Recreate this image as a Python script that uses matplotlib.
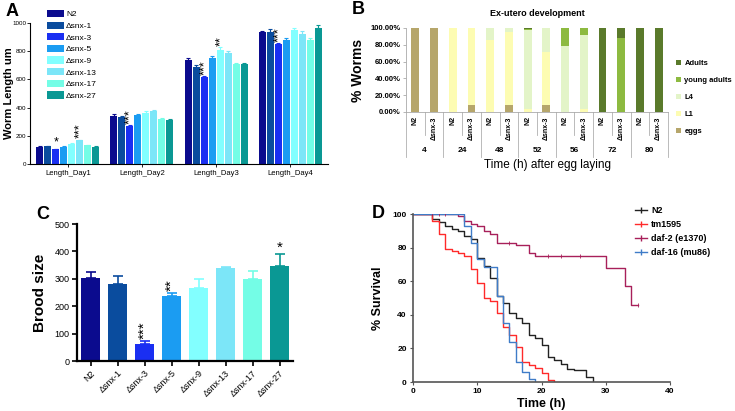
import numpy as np
import matplotlib
matplotlib.use("Agg")
import matplotlib.pyplot as plt
from matplotlib.lines import Line2D
import matplotlib.transforms as mtransforms

plt.rcParams['font.family'] = ['Liberation Sans', 'DejaVu Sans']

W, H = 735, 411

# ---- data ----
strains = ["N2", "Δsnx-1", "Δsnx-3", "Δsnx-5", "Δsnx-9", "Δsnx-13", "Δsnx-17", "Δsnx-27"]
strainColors = ["#0b0b8e", "#0a4c9e", "#1a2ff2", "#1b9cf2", "#82ffff", "#7ce6f8", "#74fde6", "#0a9894"]

days = ["Length_Day1", "Length_Day2", "Length_Day3", "Length_Day4"]
lengthDay1 = [122, 125, 104, 122, 143, 167, 134, 122]
lengthDay2 = [343, 332, 268, 348, 365, 379, 320, 313]
lengthDay3 = [741, 689, 619, 753, 812, 784, 708, 706]
lengthDay4 = [934, 934, 849, 878, 948, 920, 882, 967]
errDay1 = [4, 4, 5, 4, 5, 6, 4, 3]
errDay2 = [10, 6, 6, 8, 8, 6, 5, 4]
errDay3 = [10, 12, 6, 10, 20, 14, 10, 8]
errDay4 = [8, 20, 8, 15, 15, 20, 15, 20]
# (day index, strain index, stars)
lengthStars = [(0, 2, "*"), (0, 5, "***"), (1, 2, "***"), (2, 2, "***"), (2, 4, "**"), (3, 2, "***")]

timePoints = ["4", "24", "48", "52", "56", "72", "80"]
devStrains = ["N2", "Δsnx-3"]
eggs   = [100, 100, 0,   8,  0,  8,  0,  8,  0,  0,   0,  0,   0,   0]
L1     = [0,   0,   100, 92, 86, 87, 3,  63, 0,  3,   0,  0,   0,   0]
L4     = [0,   0,   0,   0,  14, 5,  95, 29, 78, 89,  0,  0,   0,   0]
youngA = [0,   0,   0,   0,  0,  0,  1,  0,  22, 8,   0,  88,  0,   0]
adults = [0,   0,   0,   0,  0,  0,  1,  0,  0,  0,   100, 12, 100, 100]
stageNames = ["eggs", "L1", "L4", "young adults", "Adults"]
stageColors = ["#b6a66b", "#fdfcb2", "#e3f4c8", "#8dba40", "#5a7a2b"]

brood = [302, 282, 61, 238, 268, 338, 301, 346]
broodErr = [21, 29, 13, 10, 31, 6, 27, 45]
broodStars = [(2, "***"), (3, "**"), (7, "*")]

n2T = [0, 3, 4, 5, 6, 7, 8, 9, 10, 11, 12, 13, 14, 15, 16, 17, 18, 19, 20, 21, 22, 23, 24, 25, 27, 28]
n2S = [100, 97, 95, 93, 91, 90, 87, 85, 74, 69, 62, 51, 47, 41, 38, 35, 28, 26, 22, 15, 13, 11, 8, 7, 3, 0]
tmT = [0, 3, 4, 5, 6, 7, 8, 9, 10, 11, 12, 13, 14, 15, 16, 17, 18, 19, 20, 21, 22]
tmS = [100, 96, 88, 79, 78, 77, 75, 67, 59, 50, 48, 41, 33, 28, 21, 12, 10, 8.5, 5.5, 1, 0]
daf2T = [0, 7, 8, 9, 10, 11, 12, 13, 16, 18, 19, 30, 33, 34, 35]
daf2S = [100, 99, 96, 94, 93, 90, 88, 83, 81.5, 77, 75, 68, 57, 46, 46]
daf16T = [0, 8, 9, 10, 11, 13, 14, 15, 16, 17, 18, 19]
daf16S = [100, 93, 83, 73.5, 68.6, 51, 35, 24, 12, 6, 2, 0]
daf2Censor = [3, 4, 5, 15, 21, 23, 26, 35]


def px_axes(left, top, right, bottom):
    return fig.add_axes([left / W, 1 - bottom / H, (right - left) / W, (bottom - top) / H])


fig = plt.figure(figsize=(W / 100, H / 100), dpi=100)

# ================= A =================
axA = px_axes(30, 23, 328, 164)
lengths = [lengthDay1, lengthDay2, lengthDay3, lengthDay4]
errs = [errDay1, errDay2, errDay3, errDay4]
pitch = 0.108
barW = 0.094
for j in range(len(strains)):
    xs = np.arange(len(days)) + (j - 3.5) * pitch
    vals = [lengths[d][j] for d in range(len(days))]
    ee = [errs[d][j] for d in range(len(days))]
    axA.bar(xs, vals, barW, color=strainColors[j], label=strains[j])
    axA.errorbar(xs, vals, yerr=[np.zeros(len(ee)), ee], fmt='none',
                 ecolor=strainColors[j], elinewidth=0.8, capsize=1.5, capthick=0.8)
for d, j, s in lengthStars:
    x = d + (j - 3.5) * pitch
    y = lengths[d][j] + errs[d][j] + 8
    if len(s) == 1:
        axA.text(x, y - 10, s, ha='center', va='bottom', fontsize=9)
    else:
        axA.text(x + 0.01, y, s, ha='center', va='bottom', fontsize=9, rotation=90)
axA.set_xlim(-0.51, 3.51)
axA.set_ylim(0, 1000)
axA.set_xticks(range(len(days)))
axA.set_xticklabels(days, fontsize=5.5)
axA.set_yticks(range(0, 1001, 200))
axA.tick_params(axis='y', labelsize=4.5, length=2, width=0.6, pad=0.8)
axA.tick_params(axis='x', length=2, width=0.6, pad=2)
for sp in ['top', 'right']:
    axA.spines[sp].set_visible(False)
for sp in ['left', 'bottom']:
    axA.spines[sp].set_linewidth(0.8)
axA.set_ylabel("Worm Length um", fontsize=8, fontweight='bold')
axA.yaxis.set_label_coords(-0.053, 0.5)
fig.legend(*axA.get_legend_handles_labels(), loc='upper left', bbox_to_anchor=(47 / W, 1 - 10 / H),
           frameon=False, fontsize=6, handlelength=2.0, handleheight=0.95, labelspacing=0.38,
           handletextpad=0.3, borderaxespad=0, borderpad=0)
fig.text(6 / W, 1 - 12 / H, "A", fontsize=13, fontweight='bold', va='center', ha='left')

# ================= B =================
axB = px_axes(406, 28, 668, 112)
nb = len(eggs)
xb = np.arange(nb)
stages = [eggs, L1, L4, youngA, adults]
bottom = np.zeros(nb)
for st, nm, c in zip(stages, stageNames, stageColors):
    axB.bar(xb, st, 0.42, bottom=bottom, color=c, label=nm)
    bottom = bottom + np.array(st)
axB.set_xlim(-0.5, nb - 0.5)
axB.set_ylim(0, 100)
axB.set_yticks(range(0, 101, 20))
axB.set_yticklabels(["%.2f%%" % v for v in range(0, 101, 20)], fontsize=5.5, fontweight='bold')
axB.tick_params(axis='y', length=2, width=0.5, color='#999999', pad=2)
axB.set_xticks([])
for sp in ['top', 'right']:
    axB.spines[sp].set_visible(False)
for sp in ['left', 'bottom']:
    axB.spines[sp].set_color('#aaaaaa')
    axB.spines[sp].set_linewidth(0.6)
trB = mtransforms.blended_transform_factory(axB.transData, axB.transAxes)
for i in range(nb):
    axB.text(i, -0.05, devStrains[i % 2], transform=trB, rotation=90, ha='center', va='top',
             fontsize=5, fontweight='bold')
for k in range(nb + 1):
    x = k - 0.5
    yb = -0.54 if k % 2 == 0 else -0.27
    axB.add_line(Line2D([x, x], [0, yb], transform=trB, color='#b0b0b0', lw=0.6, clip_on=False))
for g, tp in enumerate(timePoints):
    axB.text(2 * g + 0.5, -0.46, tp, transform=trB, ha='center', va='center', fontsize=6,
             fontweight='bold')
axB.set_title("Ex-utero development", fontsize=6.5, fontweight='bold', pad=9)
axB.set_ylabel("% Worms", fontsize=10, fontweight='bold', labelpad=4)
fig.text(547 / W, 1 - 165 / H, "Time (h) after egg laying", fontsize=8.5, ha='center', va='center')
hB, lB = axB.get_legend_handles_labels()
fig.legend(hB[::-1], lB[::-1], loc='upper left', bbox_to_anchor=(676 / W, 1 - 60 / H), frameon=False,
           prop={'size': 5.5, 'weight': 'bold'}, handlelength=0.7, handleheight=0.7, labelspacing=1.25,
           handletextpad=0.4, borderaxespad=0, borderpad=0)
fig.text(352 / W, 1 - 9 / H, "B", fontsize=13, fontweight='bold', va='center', ha='left')

# ================= C =================
axC = px_axes(77, 224, 293, 361)
xc = np.arange(len(strains))
axC.bar(xc, brood, 0.74, color=strainColors)
for i in range(len(strains)):
    axC.errorbar(xc[i], brood[i], yerr=[[0], [broodErr[i]]], fmt='none', ecolor=strainColors[i],
                 elinewidth=1.2, capsize=3.5, capthick=1.2)
for i, s in broodStars:
    y = brood[i] + broodErr[i] + 6
    if len(s) == 1:
        axC.text(xc[i], y - 10, s, ha='center', va='bottom', fontsize=11)
    else:
        axC.text(xc[i] + 0.02, y, s, ha='center', va='bottom', fontsize=11, rotation=90)
axC.set_xlim(-0.5, len(strains) - 0.5)
axC.set_ylim(0, 500)
axC.set_yticks(range(0, 501, 100))
axC.set_xticks(xc)
axC.set_xticklabels(strains, rotation=45, ha='right', rotation_mode='anchor', fontsize=6.5)
axC.tick_params(axis='both', length=3.5, width=1.2, labelsize=6.5, pad=2)
for sp in ['top', 'right']:
    axC.spines[sp].set_visible(False)
for sp in ['left', 'bottom']:
    axC.spines[sp].set_linewidth(1.6)
axC.set_ylabel("Brood size", fontsize=11, fontweight='bold', labelpad=5)
fig.text(36 / W, 1 - 214 / H, "C", fontsize=13, fontweight='bold', va='center', ha='left')

# ================= D =================
axD = px_axes(413, 214, 670, 382)
survival = [(n2T, n2S, "N2", "#222222"), (tmT, tmS, "tm1595", "#ff2a2a"),
            (daf2T, daf2S, "daf-2 (e1370)", "#a8205a"), (daf16T, daf16S, "daf-16 (mu86)", "#3f7cc8")]
for t, s, nm, c in survival:
    axD.step(t, s, where='post', color=c, lw=1.0, label=nm)
cs = [daf2S[np.searchsorted(daf2T, v, side='right') - 1] for v in daf2Censor]
axD.plot(daf2Censor, cs, ls='none', marker='|', color="#a8205a", markersize=3, mew=0.6)
axD.set_xlim(0, 40)
axD.set_ylim(0, 100)
axD.set_xticks(range(0, 41, 10))
axD.set_yticks(range(0, 101, 20))
axD.tick_params(axis='both', length=2.5, width=0.8, labelsize=6, pad=2, color='#555555')
for lab in axD.get_xticklabels() + axD.get_yticklabels():
    lab.set_fontweight('bold')
for sp in ['top', 'right']:
    axD.spines[sp].set_visible(False)
for sp in ['left', 'bottom']:
    axD.spines[sp].set_linewidth(1.2)
    axD.spines[sp].set_color('#555555')
axD.set_xlabel("Time (h)", fontsize=9, fontweight='bold', labelpad=2)
axD.set_ylabel("% Survival", fontsize=9, fontweight='bold', labelpad=6)
legD = [Line2D([0], [0], color=c, lw=1.0, marker='|', markersize=4) for _, _, _, c in survival]
fig.legend(legD, [nm for _, _, nm, _ in survival], loc='upper left', bbox_to_anchor=(635 / W, 1 - 206 / H),
           frameon=False, prop={'size': 6.5, 'weight': 'bold'}, handlelength=1.3, labelspacing=0.55,
           handletextpad=0.5, borderaxespad=0, borderpad=0)
fig.text(372 / W, 1 - 213 / H, "D", fontsize=13, fontweight='bold', va='center', ha='left')

fig.savefig("out.png", dpi=100)
